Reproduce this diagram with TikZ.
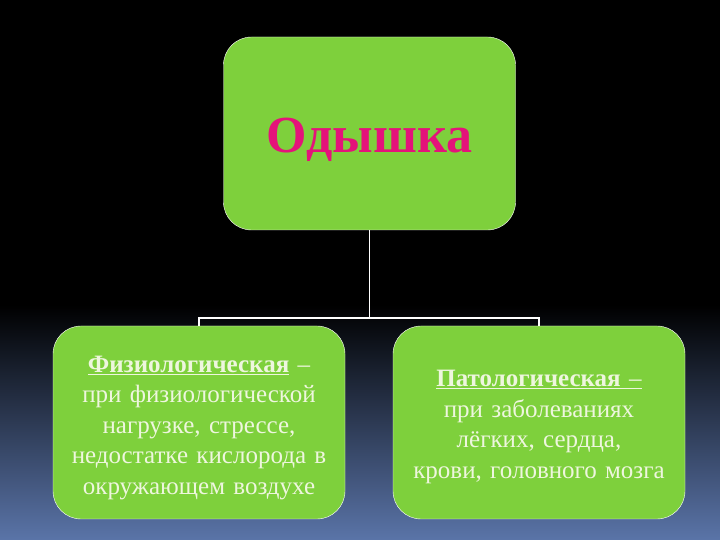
\documentclass[tikz,border=0pt]{standalone}
\usepackage{fontspec}
\setmainfont{Liberation Serif}
\usepackage{tikz}
\definecolor{boxgreen}{HTML}{7ED03C}
\definecolor{titlered}{HTML}{E4137A}
\definecolor{paletext}{HTML}{EEF6DE}
\definecolor{bgblue}{HTML}{5A74A8}
\begin{document}
\begin{tikzpicture}[x=1pt, y=1pt,
	greenbox/.style={draw=white, thin, fill=boxgreen, rounded corners=28pt, rectangle,
		minimum width=292pt, minimum height=193pt, inner sep=0pt},
	boxtext/.style={text=paletext, text width=286pt, align=center,
		font=\fontsize{25}{30.5}\selectfont},
	link/.style={draw=white, line width=1.5pt}]
		
		% background
		\fill[black] (0,0) rectangle (720,540);
		\shade[top color=black, bottom color=bgblue] (0,0) rectangle (720,235);
		\useasboundingbox (0,0) rectangle (720,540);
		
		\node[greenbox] (dysp) at (369.5,406.5) {};
		\node[text=titlered, font=\fontsize{52}{58}\selectfont\bfseries] (title) at (369.5,400) {Одышка};
		
		\node[greenbox] (fiz) at (199,117.5) {};
		\node[boxtext] (fiztext) at (199,112) {\textbf{\underline{Физиологическая}} –\\
			при физиологической\\
			нагрузке, стрессе,\\
			недостатке кислорода в\\
			окружающем воздухе};
		
		\node[greenbox] (pat) at (539,117.5) {};
		\node[boxtext] (pattext) at (539,113) {\underline{\textbf{Патологическая} –}\\
			при заболеваниях\\
			лёгких, сердца,\\
			крови, головного мозга};
		
		\coordinate (split) at (369.5,222);
		\draw[link] (dysp.south) -- (split);
		\draw[link] (fiz.north) |- (split) -| (pat.north);
		
\end{tikzpicture}
\end{document}
